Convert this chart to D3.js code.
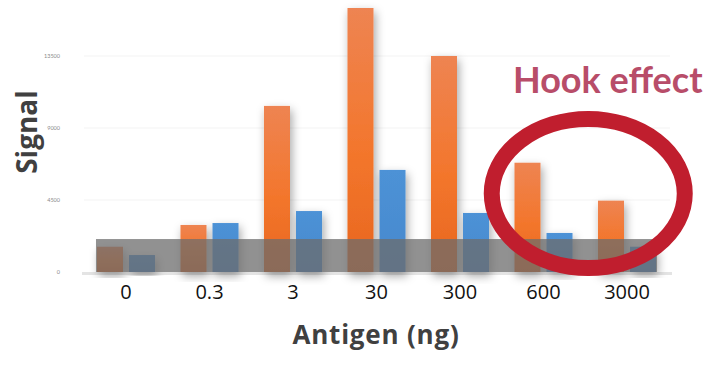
<!DOCTYPE html>
<html>
<head>
<meta charset="utf-8">
<script src="https://cdn.jsdelivr.net/npm/d3@7"></script>
<style>
  body { margin: 0; background: #fff; }
  svg { display: block; }
</style>
</head>
<body>
<div id="vis"></div>
<script>
var categories = ["0", "0.3", "3", "30", "300", "600", "3000"];
var orangeValues = [1580, 2940, 10380, 16500, 13500, 6830, 4460];
var blueValues = [1060, 3060, 3810, 6380, 3690, 2440, 1580];
var yTicks = [0, 4500, 9000, 13500];
var bandLevel = 2060;

var W = 721, H = 366;

var x = d3.scaleBand()
    .domain(categories)
    .range([84.25, 668.75])
    .paddingInner(0.305)
    .paddingOuter(0.1525);

var sub = d3.scaleBand()
    .domain(["orange", "blue"])
    .range([0, x.bandwidth()])
    .paddingInner(0.1875);

var y = d3.scaleLinear()
    .domain([0, 13500])
    .range([272, 56]);

var svg = d3.select("#vis").append("svg")
    .attr("width", W)
    .attr("height", H);

var defs = svg.append("defs");

var og = defs.append("linearGradient").attr("id", "orangeGrad")
    .attr("x1", 0).attr("y1", 0).attr("x2", 0).attr("y2", 1);
og.append("stop").attr("offset", "0%").attr("stop-color", "#ee8452");
og.append("stop").attr("offset", "55%").attr("stop-color", "#f3762c");
og.append("stop").attr("offset", "100%").attr("stop-color", "#e8661f");

var bg = defs.append("linearGradient").attr("id", "blueGrad")
    .attr("x1", 0).attr("y1", 0).attr("x2", 0).attr("y2", 1);
bg.append("stop").attr("offset", "0%").attr("stop-color", "#4d92d6");
bg.append("stop").attr("offset", "100%").attr("stop-color", "#4788cd");

var shadow = defs.append("filter").attr("id", "shadow")
    .attr("x", "-60%").attr("y", "-20%").attr("width", "220%").attr("height", "140%");
shadow.append("feDropShadow")
    .attr("dx", 2).attr("dy", 4)
    .attr("stdDeviation", 5)
    .attr("flood-color", "#000")
    .attr("flood-opacity", 0.35);

// faint gridlines
svg.append("g").selectAll("line")
    .data(yTicks.slice(1))
    .join("line")
    .attr("x1", 84).attr("x2", 670)
    .attr("y1", d => y(d)).attr("y2", d => y(d))
    .attr("stroke", "#f3f3f3")
    .attr("stroke-width", 1);

// baseline
svg.append("line")
    .attr("x1", 82).attr("x2", 672)
    .attr("y1", y(0) + 1.5).attr("y2", y(0) + 1.5)
    .attr("stroke", "#e4e4e4")
    .attr("stroke-width", 3);

// y tick labels (tiny)
svg.append("g").selectAll("text")
    .data(yTicks)
    .join("text")
    .attr("x", 60)
    .attr("y", d => y(d) + 2)
    .attr("text-anchor", "end")
    .attr("font-family", "Lato, sans-serif")
    .attr("font-size", 5.5)
    .attr("fill", "#8a8a8a")
    .text(d => d);

// bars
var groups = svg.append("g").selectAll("g")
    .data(categories)
    .join("g")
    .attr("transform", d => "translate(" + x(d) + ",0)");

groups.append("rect")
    .attr("x", sub("orange"))
    .attr("width", sub.bandwidth())
    .attr("y", (d, i) => y(orangeValues[i]))
    .attr("height", (d, i) => y(0) - y(orangeValues[i]))
    .attr("fill", "url(#orangeGrad)")
    .attr("filter", "url(#shadow)");

groups.append("rect")
    .attr("x", sub("blue"))
    .attr("width", sub.bandwidth())
    .attr("y", (d, i) => y(blueValues[i]))
    .attr("height", (d, i) => y(0) - y(blueValues[i]))
    .attr("fill", "url(#blueGrad)")
    .attr("filter", "url(#shadow)");

// gray background band
var bandX0 = x(categories[0]) - 1;
var bandX1 = x(categories[categories.length - 1]) + x.bandwidth() + 1;
svg.append("rect")
    .attr("x", bandX0)
    .attr("y", y(bandLevel))
    .attr("width", bandX1 - bandX0)
    .attr("height", y(0) - y(bandLevel))
    .attr("fill", "#6c6c6c")
    .attr("fill-opacity", 0.75);

// x category labels
svg.append("g").selectAll("text")
    .data(categories)
    .join("text")
    .attr("x", d => x(d) + x.bandwidth() / 2)
    .attr("y", 299)
    .attr("text-anchor", "middle")
    .attr("font-family", "'Open Sans', sans-serif")
    .attr("font-size", 20)
    .attr("fill", "#111")
    .text(d => d);

// axis titles
svg.append("text")
    .attr("x", 376)
    .attr("y", 344)
    .attr("text-anchor", "middle")
    .attr("font-family", "'Open Sans', sans-serif")
    .attr("font-weight", "bold")
    .attr("font-size", 26)
    .attr("letter-spacing", 0.8)
    .attr("fill", "#404040")
    .text("Antigen (ng)");

svg.append("text")
    .attr("transform", "translate(37,132) rotate(-90)")
    .attr("text-anchor", "middle")
    .attr("font-family", "'Open Sans', sans-serif")
    .attr("font-weight", "bold")
    .attr("font-size", 28)
    .attr("fill", "#404040")
    .text("Signal");

// hook effect annotation
var cx = (x("600") + x("3000") + x.bandwidth()) / 2 + 3;
svg.append("ellipse")
    .attr("cx", cx)
    .attr("cy", 193.5)
    .attr("rx", 96.5)
    .attr("ry", 74.5)
    .attr("fill", "none")
    .attr("stroke", "#c01e2e")
    .attr("stroke-width", 16);

svg.append("text")
    .attr("x", 513)
    .attr("y", 93)
    .attr("font-family", "Lato, sans-serif")
    .attr("font-weight", "bold")
    .attr("font-size", 36)
    .attr("fill", "#b84d69")
    .text("Hook effect");
</script>
</body>
</html>
